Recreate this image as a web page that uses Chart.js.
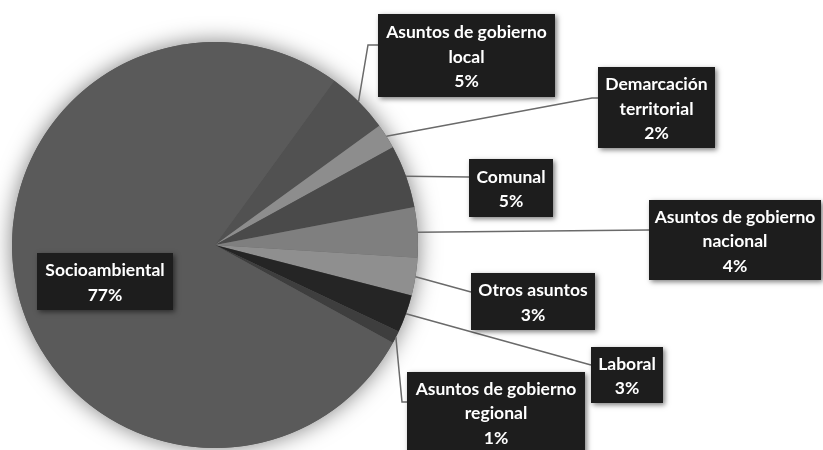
<!DOCTYPE html>
<html>
<head>
<meta charset="utf-8">
<script src="https://cdn.jsdelivr.net/npm/chart.js@4.4.1/dist/chart.umd.min.js"></script>
<style>
  html, body { margin: 0; padding: 0; background: #fff; }
  canvas { display: block; }
</style>
</head>
<body>
<canvas id="pie" width="823" height="450"></canvas>
<script>
// categories, clockwise starting at "local"
const labels = [
    ['Asuntos de gobierno', 'local'],
    ['Demarcación', 'territorial'],
    ['Comunal'],
    ['Asuntos de gobierno', 'nacional'],
    ['Otros asuntos'],
    ['Laboral'],
    ['Asuntos de gobierno', 'regional'],
    ['Socioambiental']
];
const percentages = [5, 2, 5, 4, 3, 3, 1, 77];
const sliceColors = ['#515151', '#8d8d8d', '#4a4a4a', '#7f7f7f', '#8f8f8f', '#252525', '#3e3e3e', '#5a5a5a'];

// label boxes and leader lines (layout only)
const boxes = [
    { x: 378, y: 14, w: 177, h: 83, elbow: [368, 45], end: [378, 45] },
    { x: 598, y: 67, w: 117, h: 81, elbow: [592, 98], end: [598, 98] },
    { x: 469, y: 159, w: 84, h: 58, end: [469, 177] },
    { x: 649, y: 200, w: 172, h: 80, end: [649, 230] },
    { x: 471, y: 273, w: 124, h: 57, end: [471, 292] },
    { x: 591, y: 347, w: 72, h: 56, end: [591, 365] },
    { x: 407, y: 372, w: 178, h: 88, elbow: [402, 402], end: [407, 402] },
    { x: 37, y: 253, w: 136, h: 57 }
];

const pieShadow = {
    id: 'pieShadow',
    beforeDatasetsDraw(chart) {
        const arc = chart.getDatasetMeta(0).data[0];
        const ctx = chart.ctx;
        ctx.save();
        ctx.shadowColor = 'rgba(0,0,0,0.5)';
        ctx.shadowBlur = 22;
        ctx.fillStyle = '#5a5a5a';
        ctx.beginPath();
        ctx.arc(arc.x, arc.y, arc.outerRadius, 0, Math.PI * 2);
        ctx.fill();
        ctx.restore();
    }
};

const boxLabels = {
    id: 'boxLabels',
    afterDatasetsDraw(chart) {
        const ctx = chart.ctx;
        const meta = chart.getDatasetMeta(0);
        ctx.save();
        // leader lines
        ctx.strokeStyle = '#6a6a6a';
        ctx.lineWidth = 1.5;
        meta.data.forEach((arc, i) => {
            const b = boxes[i];
            if (!b.end) return;
            const mid = (arc.startAngle + arc.endAngle) / 2;
            ctx.beginPath();
            ctx.moveTo(arc.x + Math.cos(mid) * arc.outerRadius, arc.y + Math.sin(mid) * arc.outerRadius);
            if (b.elbow) ctx.lineTo(b.elbow[0], b.elbow[1]);
            ctx.lineTo(b.end[0], b.end[1]);
            ctx.stroke();
        });
        // boxes
        boxes.forEach(b => {
            ctx.save();
            ctx.shadowColor = 'rgba(0,0,0,0.5)';
            ctx.shadowBlur = 5;
            ctx.shadowOffsetX = 2;
            ctx.shadowOffsetY = 2;
            ctx.fillStyle = '#1d1d1d';
            ctx.fillRect(b.x, b.y, b.w, b.h);
            ctx.restore();
        });
        // text
        ctx.fillStyle = '#ffffff';
        ctx.font = 'bold 17.5px Lato';
        ctx.textAlign = 'center';
        ctx.textBaseline = 'middle';
        const lh = 24.5;
        labels.forEach((lab, i) => {
            const b = boxes[i];
            const lines = lab.concat([percentages[i] + '%']);
            const cx = b.x + b.w / 2;
            const top = (i === 6) ? b.y + 17 : b.y + b.h / 2 - (lines.length - 1) * lh / 2 + 1.5;
            lines.forEach((t, k) => ctx.fillText(t, cx, top + k * lh));
        });
        ctx.restore();
    }
};

new Chart(document.getElementById('pie'), {
    type: 'pie',
    data: {
        labels: labels,
        datasets: [{
            data: percentages,
            backgroundColor: sliceColors,
            borderWidth: 0
        }]
    },
    options: {
        responsive: false,
        animation: false,
        rotation: 36,
        layout: { padding: { left: 12, right: 405, top: 42, bottom: 2 } },
        plugins: {
            legend: { display: false },
            tooltip: { enabled: false }
        }
    },
    plugins: [pieShadow, boxLabels]
});
</script>
</body>
</html>
